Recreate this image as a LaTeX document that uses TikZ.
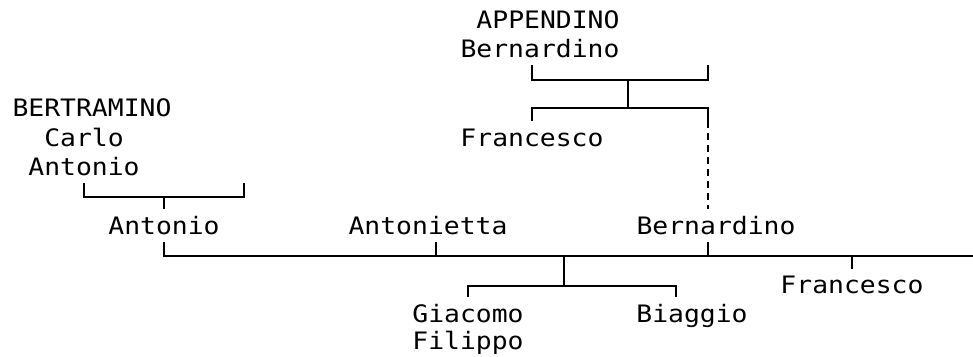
\documentclass[tikz,border=0pt]{standalone}
\usepackage{fontspec}
\setmonofont[FakeStretch=1.1]{DejaVu Sans Mono}
\usepackage{tikz}

\begin{document}
\begin{tikzpicture}[x=1pt, y=-1pt,
    person/.style={anchor=base, inner sep=0pt, outer ysep=7.5pt,
      font=\ttfamily\fontsize{24}{29.5}\selectfont},
    link/.style={line width=1.8pt},
    uncertain/.style={link, dash pattern=on 7pt off 5pt}]
      \useasboundingbox (0, 0) rectangle (973, 356);

      \node[person] (appendino) at (548, 28) {APPENDINO};
      \node[person] (bernardinoA) at (540, 57.5) {Bernardino};
      \node[person] (francescoA) at (532, 146) {Francesco};

      \node[person] (bertramino) at (92, 116.5) {BERTRAMINO};
      \node[person] (carlo) at (84, 146) {Carlo};
      \node[person] (antonioA) at (84, 175.5) {Antonio};

      \node[person] (antonioB) at (164, 234.5) {Antonio};
      \node[person] (antonietta) at (428, 234.5) {Antonietta};
      \node[person] (bernardinoB) at (716, 234.5) {Bernardino};
      \node[person] (francescoB) at (852, 293.5) {Francesco};
      \node[person] (giacomo) at (468, 322.5) {Giacomo};
      \node[person] (filippo) at (468, 349.5) {Filippo};
      \node[person] (biaggio) at (692, 322.5) {Biaggio};

      \coordinate (apL) at (532, 80);
      \coordinate (apR) at (708, 80);
      \coordinate (apM) at (628, 80);
      \coordinate (frL) at (532, 108);
      \coordinate (frR) at (708, 108);
      \coordinate (frM) at (628, 108);
      \draw[link] (bernardinoA.south -| apL) -- (apL) -- (apR) -- (bernardinoA.south -| apR);
      \draw[link] (apM) -- (frM);
      \draw[link] (francescoA.north -| frL) -- (frL) -- (frR) -- (francescoA.north -| frR);
      \draw[uncertain] (francescoA.north -| frR) -- (bernardinoB.north -| frR);

      \coordinate (btL) at (84, 197);
      \coordinate (btR) at (244, 197);
      \coordinate (btM) at (164, 197);
      \draw[link] (antonioA.south -| btL) -- (btL) -- (btR) -- (antonioA.south -| btR);
      \draw[link] (btM) -- (antonioB.north);

      \coordinate (mainL) at (164, 256);
      \coordinate (mainR) at (973, 256);
      \coordinate (tA) at (436, 256);
      \coordinate (tB) at (708, 256);
      \coordinate (tC) at (564, 256);
      \draw[link] (antonioB.south) -- (mainL) -- (mainR);
      \draw[link] (antonietta.south -| tA) -- (tA);
      \draw[link] (bernardinoB.south -| tB) -- (tB);
      \draw[link] (mainL -| francescoB) -- (francescoB.north);

      \coordinate (kidL) at (468, 286);
      \coordinate (kidR) at (676, 286);
      \coordinate (kidM) at (564, 286);
      \draw[link] (tC) -- (kidM);
      \draw[link] (giacomo.north -| kidL) -- (kidL) -- (kidR) -- (biaggio.north -| kidR);

    \end{tikzpicture}
\end{document}
